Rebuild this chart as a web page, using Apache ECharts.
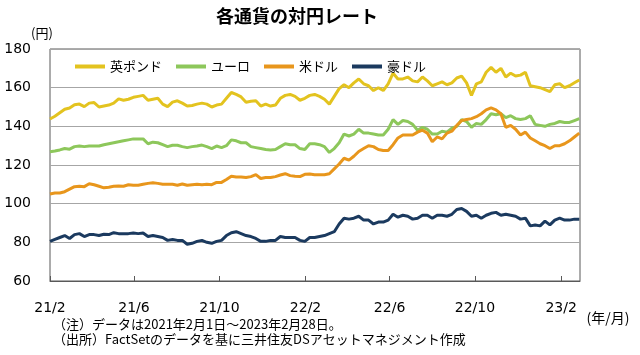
<!DOCTYPE html>
<html><head><meta charset="utf-8">
<script src="https://cdn.jsdelivr.net/npm/echarts@6/dist/echarts.min.js"></script>
<style>html,body{margin:0;padding:0;background:#fff}#c{width:640px;height:355px}</style>
</head><body><div id="c"></div>
<script>
// Weekly observations (Mondays) from 2021-02-01 to 2023-02-27
const startDate = [2021, 1, 1];
const weekCount = 109;
const tickMonths = ['2021-02','2021-06','2021-10','2022-02','2022-06','2022-10','2023-02'];
const seriesNames = ['英ポンド','ユーロ','米ドル','豪ドル'];
const yTicks = {min: 60, max: 180, step: 20};

const gbp = [143.8,145.2,147.0,148.8, 149.5,151.2,151.5,150.2,152.0, 152.3,150.0,150.5,151.0, 152.0,154.2,153.5,154.0,155.0, 155.5,156.0,153.5,154.0, 154.5,151.5,150.2,152.5, 153.2,152.0,150.5,150.8,151.5, 152.0,151.5,150.0,151.0, 151.5,154.5,157.5,156.5, 155.2,152.5,153.0,153.2,150.5, 151.5,150.5,151.0,154.5,
 156.0,156.5,155.5,153.5,154.5, 156.0,156.5,155.5,154.0, 151.5,155.5,159.5,161.5, 160.0,162.5,164.5,162.0, 161.0,158.5,160.0,158.5,162.0, 167.5,164.5,164.5,165.5, 163.5,163.0,165.5,163.5, 161.0,162.0,163.0,161.5,162.5, 165.0,166.0,162.5,156.0, 162.0,163.0,168.0,170.5,168.0, 170.0,165.5,167.5,166.0, 166.5,168.0,161.0,160.5,
 160.0,159.0,158.0,161.5,162.0, 160.0,161.0,162.5,164.0];
const eur = [126.8,127.2,127.8,128.5, 128.2,129.5,129.8,129.5,129.8, 129.8,129.8,130.5,131.0, 131.5,132.0,132.5,133.0,133.5, 133.5,133.5,131.0,131.8, 131.5,130.5,129.5,130.2, 130.2,129.5,129.0,129.5,129.8, 130.3,129.5,128.5,129.8, 129.0,130.0,133.0,132.5, 131.5,131.5,129.5,129.0,128.5, 128.0,127.8,128.0,129.5,
 131.0,130.5,130.5,128.5,128.0, 131.0,131.0,130.5,129.5, 126.5,128.5,131.5,136.0, 135.0,136.0,138.5,136.5, 136.5,136.0,135.5,135.5,138.5, 143.5,141.0,143.0,142.5, 141.0,138.0,139.5,138.5, 136.0,136.0,137.5,137.0,139.0, 140.0,143.5,142.5,139.5, 141.5,141.0,143.5,146.5,146.0, 146.5,144.5,145.5,144.0, 143.5,144.0,145.5,141.0,
 140.5,140.0,141.0,141.5,142.5, 142.0,142.0,143.0,144.0];
const usd = [105.0,105.5,105.5,106.2, 107.5,108.8,109.0,108.8,110.3, 109.8,109.0,108.2,108.5, 109.0,109.2,109.0,109.8,109.5, 109.5,110.0,110.5,110.8, 110.5,110.0,110.0,110.0, 109.5,110.2,109.5,109.8,110.0, 109.8,110.0,109.8,111.0, 111.0,112.5,114.2,113.8, 113.8,113.5,114.0,115.0,113.0, 113.5,113.5,114.0,114.8,
 115.5,114.5,114.2,114.0,115.2, 115.3,115.0,115.0,115.0, 115.5,118.0,120.5,123.5, 122.5,124.5,127.0,128.5, 130.0,129.5,128.0,127.5,127.5, 130.5,134.0,135.5,135.5, 135.5,137.0,138.0,136.5, 132.0,134.5,133.5,136.5,137.5, 140.5,143.0,143.5,144.0, 145.0,146.5,148.5,149.5,148.5, 146.5,139.5,140.5,138.5, 135.5,137.0,134.0,132.5,
 131.0,130.0,128.5,130.0,130.0, 131.0,132.5,134.5,136.5];
const aud = [80.5,81.5,82.5,83.5, 82.0,84.0,84.5,83.0,84.0, 84.0,83.5,84.2,84.0, 85.0,84.5,84.5,84.5,84.8, 84.5,84.8,83.0,83.5, 83.0,82.5,81.0,81.5, 81.0,81.0,79.0,79.5,80.5, 81.0,80.0,79.5,80.5, 81.0,83.5,85.0,85.5, 84.5,83.5,83.0,82.0,80.5, 80.5,81.0,81.0,83.0,
 82.5,82.5,82.5,81.0,80.5, 82.5,82.5,83.0,83.5, 84.5,85.5,89.5,92.5, 92.0,92.5,93.5,91.5, 91.5,89.5,90.5,90.5,91.5, 94.5,93.0,94.0,93.5, 92.0,92.5,94.0,94.0, 92.5,94.0,94.0,93.5,94.5, 97.0,97.5,96.0,93.5, 94.0,92.5,94.0,95.0,95.5, 94.0,94.5,94.0,93.5, 92.0,92.5,88.5,89.0,
 88.5,91.0,89.0,91.5,92.5, 91.5,91.5,92.0,92.0];

const colors = ['#E3C31F','#8DC75B','#E8961C','#1B3A5F'];
const dates = [];
for (let i = 0; i < weekCount; i++) dates.push(new Date(startDate[0], startDate[1], startDate[2] + 7 * i).getTime());
const tickVals = tickMonths.map(s => { const [y, m] = s.split('-').map(Number); return new Date(y, m - 1, 1).getTime(); });
const pair = arr => arr.map((v, i) => [dates[i], v]);
const allData = [gbp, eur, usd, aud];

const JP = "'Noto Sans CJK JP', sans-serif";
const chart = echarts.init(document.getElementById('c'), null, {renderer: 'canvas'});
chart.setOption({
  animation: false,
  backgroundColor: '#fff',
  color: colors,
  grid: {left: 50, right: 60, top: 49, bottom: 74, show: true, borderColor: '#595959', borderWidth: 1, containLabel: false},
  legend: {
    left: 70, top: 55, icon: 'rect', itemWidth: 30, itemHeight: 4, itemGap: 14,
    textStyle: {fontFamily: JP, fontSize: 13, color: '#000'},
    data: seriesNames
  },
  xAxis: {
    type: 'value',
    min: new Date(2021, 1, 1).getTime(),
    max: new Date(2023, 1, 28).getTime(),
    axisLine: {show: true, lineStyle: {color: '#595959', width: 1}},
    axisTick: {show: true, inside: true, length: 5, customValues: tickVals, lineStyle: {color: '#595959'}},
    axisLabel: {
      customValues: tickVals, margin: 20, fontFamily: 'DejaVu Sans', fontSize: 14, color: '#000',
      formatter: v => { const d = new Date(v); return (d.getFullYear() % 100) + '/' + (d.getMonth() + 1); }
    },
    splitLine: {show: false}
  },
  yAxis: {
    type: 'value', min: yTicks.min, max: yTicks.max, interval: yTicks.step,
    axisLine: {show: false}, axisTick: {show: false},
    axisLabel: {margin: 19, fontFamily: 'DejaVu Sans', fontSize: 14, color: '#000'},
    splitLine: {show: true, lineStyle: {color: '#a6a6a6', width: 1}}
  },
  series: seriesNames.map((n, k) => ({
    name: n, type: 'line', data: pair(allData[k]), showSymbol: false, symbol: 'none',
    lineStyle: {width: 3, color: colors[k]}, itemStyle: {color: colors[k]}
  })),
  graphic: [
    {type: 'text', x: 297, y: 16, style: {text: '各通貨の対円レート', font: "bold 18px 'Noto Sans CJK JP'", fill: '#000', textAlign: 'center', textVerticalAlign: 'middle'}},
    {type: 'text', x: 42, y: 33, style: {text: '(円)', font: "13px 'Noto Sans CJK JP'", fill: '#000', textAlign: 'center', textVerticalAlign: 'middle'}},
    {type: 'text', x: 608, y: 318, style: {text: '(年/月)', font: "14px 'Noto Sans CJK JP'", fill: '#000', textAlign: 'center', textVerticalAlign: 'middle'}},
    {type: 'text', x: 53, y: 324, style: {text: '（注）データは2021年2月1日～2023年2月28日。', font: "13px 'Noto Sans CJK JP'", fill: '#000', textAlign: 'left', textVerticalAlign: 'middle'}},
    {type: 'text', x: 53, y: 339, style: {text: '（出所）FactSetのデータを基に三井住友DSアセットマネジメント作成', font: "13px 'Noto Sans CJK JP'", fill: '#000', textAlign: 'left', textVerticalAlign: 'middle'}}
  ]
});
</script></body></html>
